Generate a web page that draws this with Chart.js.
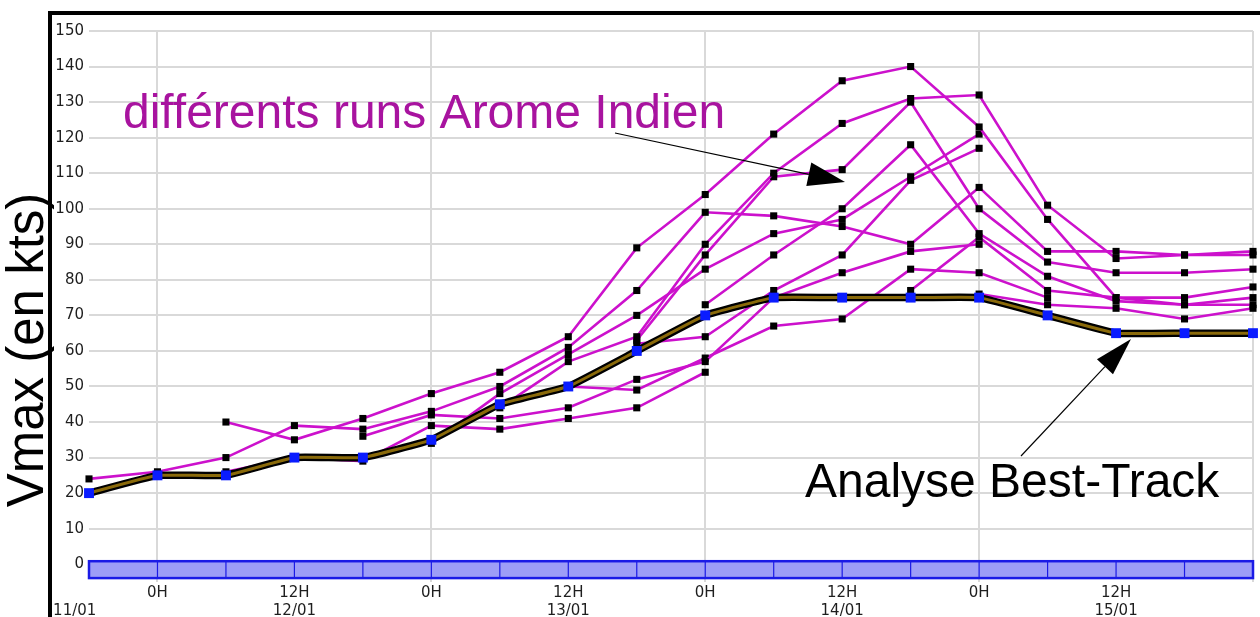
<!DOCTYPE html>
<html>
<head>
<meta charset="utf-8">
<script src="https://cdn.jsdelivr.net/npm/chart.js@4.4.1/dist/chart.umd.min.js"></script>
<style>
  html, body { margin: 0; padding: 0; background: #fff; }
  #wrap { width: 1260px; height: 617px; position: relative; }
</style>
</head>
<body>
<div id="wrap"><canvas id="vmaxChart"></canvas></div>
<script>
// 6-hourly steps, 18H 11/01 -> 0H 16/01
const steps = ['11/01 18H', '12/01 0H', '12/01 6H', '12/01 12H', '12/01 18H',
  '13/01 0H', '13/01 6H', '13/01 12H', '13/01 18H', '14/01 0H', '14/01 6H',
  '14/01 12H', '14/01 18H', '15/01 0H', '15/01 6H', '15/01 12H', '15/01 18H', '16/01 0H'];

// first date sits a bit left of its step (trailing spaces shift the centred text)
const xTicks = [['', '11/01      '], '0H', '', ['12H', '12/01'], '', '0H', '', ['12H', '13/01'],
  '', '0H', '', ['12H', '14/01'], '', '0H', '', ['12H', '15/01'], '', ''];

const yTicks = [0, 10, 20, 30, 40, 50, 60, 70, 80, 90, 100, 110, 120, 130, 140, 150];

const bestTrack = [20, 25, 25, 30, 30, 35, 45, 50, 60, 70, 75, 75, 75, 75, 70, 65, 65, 65];

// Arome Indien runs (kts)
const run1  = [24, 26, 30, 39, 38, 43, 50, 61, 77, 99, 98, 95, 90, 106, 88, 88, 87, 88];
const run2  = [null, null, 40, 35, 41, 48, 54, 64, 89, 104, 121, 136, 140, 123, 97, 75, 75, 78];
const run3  = [null, null, 26, 30, 29, 39, 38, 41, 44, 54, null, null, null, null, null, null, null, null];
const run4  = [null, null, null, null, 36, 42, 41, 44, 52, 57, 75, 82, 88, 90, null, null, null, null];
const run5  = [null, null, null, null, null, 34, 48, 59, 70, 83, 93, 97, 109, 121, null, null, null, null];
const run6  = [null, null, null, null, null, null, 44, 57, 64, 90, 110, 124, 131, 132, 101, 86, 87, 87];
const run7  = [null, null, null, null, null, null, null, 50, 49, 58, 67, 69, 83, 82, 75, null, null, null];
const run8  = [null, null, null, null, null, null, null, null, 63, 87, 109, 111, 130, 100, 85, 82, 82, 83];
const run9  = [null, null, null, null, null, null, null, null, 62, 64, 77, 87, 108, 117, null, null, null, null];
const run10 = [null, null, null, null, null, null, null, null, null, 73, 87, 100, 118, 93, 81, 74, 73, 75];
const run11 = [null, null, null, null, null, null, null, null, null, null, null, null, 77, 92, 77, 75, 73, 73];
const run12 = [null, null, null, null, null, null, null, null, null, null, null, null, null, 76, 73, 72, 69, 72];

const runs = [run1, run2, run3, run4, run5, run6, run7, run8, run9, run10, run11, run12];

const tickFont = { family: 'DejaVu Sans', size: 15 };

const runSets = runs.map((r, i) => ({
  label: 'run ' + (i + 1),
  data: r,
  order: 2,
  borderColor: '#cc11cc',
  borderWidth: 2.6,
  pointStyle: 'rect',
  pointRadius: 5,
  pointBorderWidth: 0,
  pointBackgroundColor: '#000',
  tension: 0
}));

// blue time band under 0, drawn on the x scale
function drawBand(chart) {
  let { ctx, scales: { x, y } } = chart
  let top = y.getPixelForValue(0.85)
  let bottom = y.getPixelForValue(-3.9)
  let left = x.getPixelForValue(0)
  let right = x.getPixelForValue(steps.length - 1)
  ctx.save()
  ctx.fillStyle = '#9d9df7'
  ctx.fillRect(left, top, right - left, bottom - top)
  ctx.strokeStyle = '#1a1ae6'
  ctx.lineWidth = 1.2
  steps.forEach((s, i) => {
    let px = x.getPixelForValue(i)
    ctx.beginPath()
    ctx.moveTo(px, top)
    ctx.lineTo(px, bottom)
    ctx.stroke()
  })
  ctx.lineWidth = 2.5
  ctx.strokeRect(left, top, right - left, bottom - top)
  ctx.restore()
}

function arrow(ctx, x0, y0, x1, y1, len, half) {
  let a = Math.atan2(y1 - y0, x1 - x0)
  let bx = x1 - len * Math.cos(a), by = y1 - len * Math.sin(a)
  ctx.beginPath()
  ctx.moveTo(x0, y0)
  ctx.lineTo(bx, by)
  ctx.stroke()
  ctx.beginPath()
  ctx.moveTo(x1, y1)
  ctx.lineTo(bx + half * Math.sin(a), by - half * Math.cos(a))
  ctx.lineTo(bx - half * Math.sin(a), by + half * Math.cos(a))
  ctx.closePath()
  ctx.fill()
}

const decor = {
  id: 'decor',
  beforeDatasetsDraw(chart) {
    drawBand(chart)
  },
  afterDraw(chart) {
    let ctx = chart.ctx
    ctx.save()
    // frame
    ctx.fillStyle = '#000'
    ctx.fillRect(48, 11, 4, 606)
    ctx.fillRect(48, 11, 1212, 4)

    // axis title
    ctx.save()
    ctx.translate(43, 350)
    ctx.rotate(-Math.PI / 2)
    ctx.font = '51px "Liberation Sans"'
    ctx.textAlign = 'center'
    ctx.textBaseline = 'alphabetic'
    ctx.fillText('Vmax (en kts)', 0, 0)
    ctx.restore()

    // annotations
    ctx.font = '48px "Liberation Sans"'
    ctx.textAlign = 'left'
    ctx.textBaseline = 'alphabetic'
    ctx.fillStyle = '#a8139f'
    ctx.fillText('différents runs Arome Indien', 123, 128)
    ctx.fillStyle = '#000'
    ctx.fillText('Analyse Best-Track', 805, 497)

    ctx.strokeStyle = '#000'
    ctx.lineWidth = 1.2
    arrow(ctx, 615, 133, 845, 182, 37, 12)
    arrow(ctx, 1021, 456, 1131, 339, 38, 11)
    ctx.restore()
  }
};

new Chart(document.getElementById('vmaxChart'), {
  type: 'line',
  data: {
    labels: steps,
    datasets: [
      {
        label: 'Best-Track',
        data: bestTrack,
        order: 0,
        borderColor: '#8a6a0a',
        borderWidth: 3,
        tension: 0.1,
        pointStyle: 'rect',
        pointRadius: 7,
        pointBorderWidth: 0,
        pointBackgroundColor: '#0a1cff'
      },
      {
        label: 'Best-Track contour',
        data: bestTrack,
        order: 1,
        borderColor: '#000',
        borderWidth: 7.5,
        tension: 0.1,
        pointRadius: 0
      },
      ...runSets
    ]
  },
  options: {
    responsive: true,
    maintainAspectRatio: false,
    animation: false,
    layout: { padding: { top: 31, right: 5, left: 0, bottom: 0 } },
    plugins: { legend: { display: false }, tooltip: { enabled: false } },
    scales: {
      x: {
        offset: false,
        border: { display: false },
        grid: {
          drawTicks: false,
          lineWidth: 2,
          color: c => (c.index % 4 === 1) ? '#d9d9d9' : 'rgba(0,0,0,0)'
        },
        ticks: {
          autoSkip: false,
          maxRotation: 0,
          padding: 2,
          color: '#1e1e1e',
          font: tickFont,
          callback: (v, i) => xTicks[i]
        },
        afterFit: s => { s.height = 35 }
      },
      y: {
        min: -5,
        max: 150,
        border: { display: false },
        grid: { drawTicks: false, lineWidth: 2, color: '#d9d9d9' },
        ticks: { padding: 5, color: '#1e1e1e', font: tickFont },
        afterBuildTicks: s => { s.ticks = yTicks.map(v => ({ value: v })) },
        afterFit: s => { s.width = 89 }
      }
    }
  },
  plugins: [decor]
});
</script>
</body>
</html>
